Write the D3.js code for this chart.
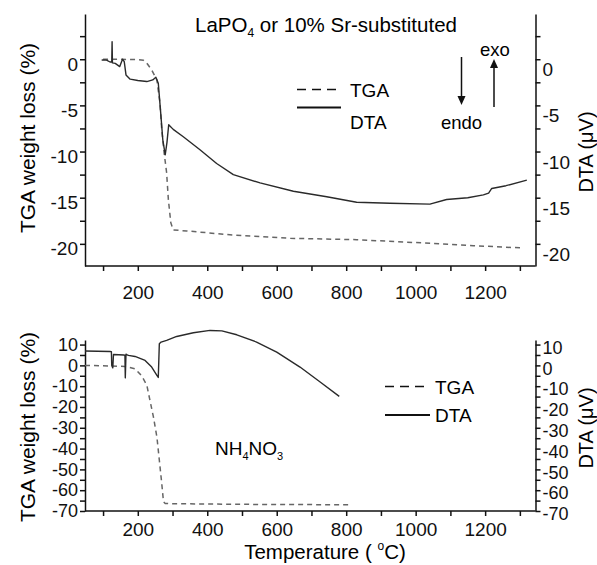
<!DOCTYPE html>
<html>
<head>
<meta charset="utf-8">
<script src="https://cdn.jsdelivr.net/npm/d3@7"></script>
<style>
  body { margin: 0; background: #fff; }
  svg { font-family: 'Liberation Sans', Arial, sans-serif; }
  .axis path, .axis line { stroke: #111; stroke-width: 1.5; }
  .axis text { fill: #111; }
</style>
</head>
<body>
<div id="chart"></div>
<script>
// top panel: LaPO4 or 10% Sr-substituted
const tgaTopT = [100, 150, 200, 216, 226, 240, 255, 264, 269, 276, 283, 288, 295, 302, 341, 475, 639, 830, 1022, 1166, 1310];
const tgaTopV = [0, 0, -0.05, -0.1, -0.43, -1.16, -2.24, -4.8, -7.65, -10.2, -12.3, -15.2, -17.7, -18.5, -18.6, -19.05, -19.4, -19.55, -19.9, -20.2, -20.45];

const dtaTopT = [96, 110, 120, 125, 126, 127, 135, 148, 156, 161, 166, 178, 200, 226, 243, 252, 259, 266, 272, 279, 284, 289, 302, 331, 379, 427, 475, 552, 648, 744, 830, 926, 1041, 1089, 1150, 1195, 1210, 1219, 1260, 1320];
const dtaTopV = [-0.08, -0.1, -0.3, -0.3, 1.9, -0.4, -0.45, -0.8, 0, -0.26, -1.7, -2.16, -2.3, -2.42, -2.24, -1.95, -2.6, -5.84, -8.73, -10.35, -9.0, -7.1, -7.6, -8.4, -9.8, -11.3, -12.5, -13.4, -14.3, -14.9, -15.5, -15.6, -15.7, -15.2, -15.0, -14.7, -14.5, -14.0, -13.7, -13.1];

// bottom panel: NH4NO3
const tgaBotT = [48, 163, 192, 211, 226, 231, 245, 255, 262, 269, 274, 279, 302, 500, 806];
const tgaBotV = [0, -0.5, -1.6, -5.0, -9.5, -13.6, -24.8, -34.4, -45.6, -56.8, -65.6, -66.4, -66.5, -66.8, -67.0];

const dtaBotT = [48, 120, 124, 125, 128, 130, 160, 163, 164, 166, 168, 173, 192, 221, 240, 255, 259, 262, 267, 283, 312, 360, 408, 442, 485, 542, 600, 667, 725, 780];
const dtaBotV = [6.9, 6.7, 6.6, 0, -1.2, 5.2, 5.0, 4.8, -6.0, 5.4, 5.2, 4.8, 4.3, 2.4, -0.8, -4.75, -5.8, 10.4, 11.2, 12.0, 13.9, 15.7, 16.8, 16.6, 14.7, 11.2, 6.4, -0.8, -8.0, -14.9];

const xTicks = [100, 200, 300, 400, 500, 600, 700, 800, 900, 1000, 1100, 1200, 1300];
const xLabels = [200, 400, 600, 800, 1000, 1200];
const yTopTicks = [-20, -17.5, -15, -12.5, -10, -7.5, -5, -2.5, 0, 2.5];
const yTopLabels = [-20, -15, -10, -5, 0];
const yBotTicks = [-70, -65, -60, -55, -50, -45, -40, -35, -30, -25, -20, -15, -10, -5, 0, 5, 10];
const yBotLabels = [-70, -60, -50, -40, -30, -20, -10, 0, 10];

const width = 597, height = 565;
const svg = d3.select('#chart').append('svg')
    .attr('width', width)
    .attr('height', height);

const x = d3.scaleLinear().domain([48, 1345]).range([85, 535.5]);
const yTop = d3.scaleLinear().domain([-22.4, 4.9]).range([266, 14]);
const yBot = d3.scaleLinear().domain([-70, 12.2]).range([511, 340]);

function pts(ts, vs) {
    return ts.map((t, i) => [t, vs[i]]);
}

function drawPanel(y, yTicks, yLabels, opts) {
    const fmt = (d) => (yLabels.includes(d) ? String(d) : '');

    const left = svg.append('g')
        .attr('class', 'axis')
        .attr('transform', `translate(${x.range()[0]},0)`)
        .call(d3.axisLeft(y).tickValues(yTicks).tickSize(5).tickSizeOuter(0).tickFormat(fmt));
    left.selectAll('text')
        .attr('x', -7)
        .attr('dy', `${0.32 + opts.leftShift / opts.tickFont}em`)
        .style('font-size', `${opts.tickFont}px`);

    const right = svg.append('g')
        .attr('class', 'axis')
        .attr('transform', `translate(${x.range()[1]},0)`)
        .call(d3.axisRight(y).tickValues(yTicks).tickSize(5).tickSizeOuter(0).tickFormat(fmt));
    right.selectAll('text')
        .attr('x', 7)
        .attr('dy', `${0.32 + opts.rightShift / opts.tickFont}em`)
        .style('font-size', `${opts.tickFont}px`);

    const bottom = svg.append('g')
        .attr('class', 'axis')
        .attr('transform', `translate(0,${y.range()[0]})`)
        .call(d3.axisBottom(x).tickValues(xTicks).tickSize(5).tickSizeOuter(0)
            .tickFormat((d) => (xLabels.includes(d) ? String(d) : '')));
    bottom.selectAll('text')
        .attr('y', opts.xLabelGap)
        .attr('dy', '0.71em')
        .style('font-size', '19px');
    bottom.select('.domain').attr('d', `M${x.range()[0]},0H${x.range()[1]}`);

    const line = d3.line().x((d) => x(d[0])).y((d) => y(d[1]));

    svg.append('path')
        .datum(pts(opts.tgaT, opts.tgaV))
        .attr('d', line)
        .attr('fill', 'none')
        .attr('stroke', '#666')
        .attr('stroke-width', 1.5)
        .attr('stroke-dasharray', '5,4');

    svg.append('path')
        .datum(pts(opts.dtaT, opts.dtaV))
        .attr('d', line)
        .attr('fill', 'none')
        .attr('stroke', '#2a2a2a')
        .attr('stroke-width', 1.4)
        .attr('stroke-linejoin', 'round');

    // axis titles
    svg.append('text')
        .attr('transform', `translate(27,${opts.leftTitleY}) rotate(-90)`)
        .attr('text-anchor', 'middle')
        .attr('dominant-baseline', 'central')
        .style('font-size', '21px')
        .text('TGA weight loss (%)');

    svg.append('text')
        .attr('transform', `translate(586,${opts.rightTitleY}) rotate(-90)`)
        .attr('text-anchor', 'middle')
        .attr('dominant-baseline', 'central')
        .style('font-size', '20px')
        .text('DTA (\u03bcV)');

    // legend
    const lg = opts.legend;
    svg.append('line')
        .attr('x1', lg.x0).attr('x2', lg.x1).attr('y1', lg.tgaY).attr('y2', lg.tgaY)
        .attr('stroke', '#111').attr('stroke-width', 1.6).attr('stroke-dasharray', '9,6');
    svg.append('text')
        .attr('x', lg.textX).attr('y', lg.tgaTextY)
        .style('font-size', '19px')
        .text('TGA');
    svg.append('line')
        .attr('x1', lg.x0).attr('x2', lg.x1).attr('y1', lg.dtaY).attr('y2', lg.dtaY)
        .attr('stroke', '#111').attr('stroke-width', 1.8);
    svg.append('text')
        .attr('x', lg.textX).attr('y', lg.dtaTextY)
        .style('font-size', '19px')
        .text('DTA');
}

drawPanel(yTop, yTopTicks, yTopLabels, {
    tgaT: tgaTopT, tgaV: tgaTopV, dtaT: dtaTopT, dtaV: dtaTopV,
    tickFont: 19, leftShift: 5, rightShift: 10.5, xLabelGap: 20,
    leftTitleY: 138, rightTitleY: 152,
    legend: { x0: 297, x1: 341, textX: 350, tgaY: 89.5, tgaTextY: 97, dtaY: 107.5, dtaTextY: 128.5 },
});

drawPanel(yBot, yBotTicks, yBotLabels, {
    tgaT: tgaBotT, tgaV: tgaBotV, dtaT: dtaBotT, dtaV: dtaBotV,
    tickFont: 18, leftShift: 0, rightShift: 3, xLabelGap: 12,
    leftTitleY: 427, rightTitleY: 428,
    legend: { x0: 385, x1: 430, textX: 435, tgaY: 386.5, tgaTextY: 393.5, dtaY: 415, dtaTextY: 422 },
});

// title of top panel
const title = svg.append('text')
    .attr('x', 326).attr('y', 32)
    .attr('text-anchor', 'middle')
    .style('font-size', '20.5px');
title.append('tspan').text('LaPO');
title.append('tspan').attr('dy', 5).style('font-size', '12px').text('4');
title.append('tspan').attr('dy', -5).text(' or 10% Sr-substituted');

// sample label of bottom panel
const nh = svg.append('text')
    .attr('x', 215).attr('y', 455)
    .style('font-size', '19px');
nh.append('tspan').text('NH');
nh.append('tspan').attr('dy', 5).style('font-size', '11px').text('4');
nh.append('tspan').attr('dy', -5).text('NO');
nh.append('tspan').attr('dy', 5).style('font-size', '11px').text('3');

// endo / exo arrows
svg.append('line')
    .attr('x1', 461.5).attr('x2', 461.5).attr('y1', 57).attr('y2', 98)
    .attr('stroke', '#111').attr('stroke-width', 1.5);
svg.append('path')
    .attr('d', 'M457.5,96L465.5,96L461.5,105Z')
    .attr('fill', '#111');
svg.append('text')
    .attr('x', 461.5).attr('y', 129)
    .attr('text-anchor', 'middle')
    .style('font-size', '18.5px')
    .text('endo');

svg.append('line')
    .attr('x1', 494).attr('x2', 494).attr('y1', 107).attr('y2', 66)
    .attr('stroke', '#111').attr('stroke-width', 1.5);
svg.append('path')
    .attr('d', 'M490,68L498,68L494,59Z')
    .attr('fill', '#111');
svg.append('text')
    .attr('x', 495).attr('y', 56)
    .attr('text-anchor', 'middle')
    .style('font-size', '18.5px')
    .text('exo');

// x axis title
const xt = svg.append('text')
    .attr('x', 325).attr('y', 559)
    .attr('text-anchor', 'middle')
    .style('font-size', '20.5px');
xt.append('tspan').text('Temperature ( ');
xt.append('tspan').attr('dy', -9).style('font-size', '12px').text('o');
xt.append('tspan').attr('dy', 9).text('C)');
</script>
</body>
</html>
